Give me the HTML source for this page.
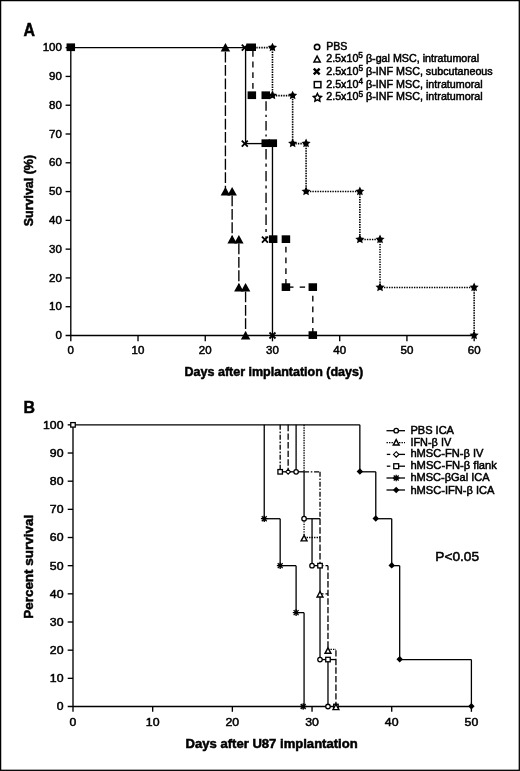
<!DOCTYPE html>
<html lang="en"><head><meta charset="utf-8"><title>Survival curves</title>
<style>html,body{margin:0;padding:0;background:#fff}svg{display:block}text{font-family:"Liberation Sans", sans-serif;fill:#000;stroke:#000;stroke-width:0.5px;paint-order:stroke}svg{will-change:transform;transform:translateZ(0)}</style>
</head><body>
<svg width="520" height="771" viewBox="0 0 520 771">
<rect x="0" y="0" width="520" height="771" fill="#fff"/>
<rect x="0.6" y="0.6" width="518.7" height="769.7" fill="none" stroke="#000" stroke-width="1.3"/>
<text x="23.40" y="36.00" font-size="17.6" text-anchor="start" font-weight="bold" textLength="11.5" lengthAdjust="spacingAndGlyphs" stroke-width="1.3">A</text>
<line x1="70.80" y1="47.05" x2="70.80" y2="341.30" stroke="#000" stroke-width="1.35" stroke-linecap="butt"/>
<line x1="65.60" y1="335.50" x2="474.15" y2="335.50" stroke="#000" stroke-width="1.35" stroke-linecap="butt"/>
<line x1="65.60" y1="306.71" x2="70.80" y2="306.71" stroke="#000" stroke-width="1.35" stroke-linecap="butt"/>
<line x1="65.60" y1="277.93" x2="70.80" y2="277.93" stroke="#000" stroke-width="1.35" stroke-linecap="butt"/>
<line x1="65.60" y1="249.14" x2="70.80" y2="249.14" stroke="#000" stroke-width="1.35" stroke-linecap="butt"/>
<line x1="65.60" y1="220.36" x2="70.80" y2="220.36" stroke="#000" stroke-width="1.35" stroke-linecap="butt"/>
<line x1="65.60" y1="191.57" x2="70.80" y2="191.57" stroke="#000" stroke-width="1.35" stroke-linecap="butt"/>
<line x1="65.60" y1="162.79" x2="70.80" y2="162.79" stroke="#000" stroke-width="1.35" stroke-linecap="butt"/>
<line x1="65.60" y1="134.00" x2="70.80" y2="134.00" stroke="#000" stroke-width="1.35" stroke-linecap="butt"/>
<line x1="65.60" y1="105.22" x2="70.80" y2="105.22" stroke="#000" stroke-width="1.35" stroke-linecap="butt"/>
<line x1="65.60" y1="76.43" x2="70.80" y2="76.43" stroke="#000" stroke-width="1.35" stroke-linecap="butt"/>
<line x1="65.60" y1="47.65" x2="70.80" y2="47.65" stroke="#000" stroke-width="1.35" stroke-linecap="butt"/>
<text x="61.90" y="339.10" font-size="11.5" text-anchor="end" font-weight="normal">0</text>
<text x="61.90" y="310.31" font-size="11.5" text-anchor="end" font-weight="normal">10</text>
<text x="61.90" y="281.53" font-size="11.5" text-anchor="end" font-weight="normal">20</text>
<text x="61.90" y="252.74" font-size="11.5" text-anchor="end" font-weight="normal">30</text>
<text x="61.90" y="223.96" font-size="11.5" text-anchor="end" font-weight="normal">40</text>
<text x="61.90" y="195.17" font-size="11.5" text-anchor="end" font-weight="normal">50</text>
<text x="61.90" y="166.39" font-size="11.5" text-anchor="end" font-weight="normal">60</text>
<text x="61.90" y="137.60" font-size="11.5" text-anchor="end" font-weight="normal">70</text>
<text x="61.90" y="108.82" font-size="11.5" text-anchor="end" font-weight="normal">80</text>
<text x="61.90" y="80.03" font-size="11.5" text-anchor="end" font-weight="normal">90</text>
<text x="61.90" y="51.25" font-size="11.5" text-anchor="end" font-weight="normal">100</text>
<line x1="138.02" y1="335.50" x2="138.02" y2="341.30" stroke="#000" stroke-width="1.35" stroke-linecap="butt"/>
<line x1="205.25" y1="335.50" x2="205.25" y2="341.30" stroke="#000" stroke-width="1.35" stroke-linecap="butt"/>
<line x1="272.47" y1="335.50" x2="272.47" y2="341.30" stroke="#000" stroke-width="1.35" stroke-linecap="butt"/>
<line x1="339.70" y1="335.50" x2="339.70" y2="341.30" stroke="#000" stroke-width="1.35" stroke-linecap="butt"/>
<line x1="406.93" y1="335.50" x2="406.93" y2="341.30" stroke="#000" stroke-width="1.35" stroke-linecap="butt"/>
<line x1="474.15" y1="335.50" x2="474.15" y2="341.30" stroke="#000" stroke-width="1.35" stroke-linecap="butt"/>
<text x="70.80" y="354.40" font-size="11.5" text-anchor="middle" font-weight="normal">0</text>
<text x="138.02" y="354.40" font-size="11.5" text-anchor="middle" font-weight="normal">10</text>
<text x="205.25" y="354.40" font-size="11.5" text-anchor="middle" font-weight="normal">20</text>
<text x="272.47" y="354.40" font-size="11.5" text-anchor="middle" font-weight="normal">30</text>
<text x="339.70" y="354.40" font-size="11.5" text-anchor="middle" font-weight="normal">40</text>
<text x="406.93" y="354.40" font-size="11.5" text-anchor="middle" font-weight="normal">50</text>
<text x="474.15" y="354.40" font-size="11.5" text-anchor="middle" font-weight="normal">60</text>
<text x="33.10" y="190.60" font-size="12.5" text-anchor="middle" font-weight="bold" textLength="71.4" lengthAdjust="spacingAndGlyphs" transform="rotate(-90 33.10 190.60)">Survival (%)</text>
<text x="184.60" y="375.90" font-size="12.5" text-anchor="start" font-weight="bold" textLength="178.5" lengthAdjust="spacingAndGlyphs">Days after implantation (days)</text>
<line x1="70.80" y1="47.65" x2="248.95" y2="47.65" stroke="#000" stroke-width="1.35" stroke-linecap="butt"/>
<line x1="225.42" y1="51.65" x2="225.42" y2="191.57" stroke="#000" stroke-width="1.35" stroke-dasharray="10.8 2.6" stroke-linecap="butt"/>
<line x1="232.14" y1="195.57" x2="232.14" y2="239.56" stroke="#000" stroke-width="1.35" stroke-dasharray="10.8 2.6" stroke-linecap="butt"/>
<line x1="238.86" y1="243.56" x2="238.86" y2="287.52" stroke="#000" stroke-width="1.35" stroke-dasharray="10.8 2.6" stroke-linecap="butt"/>
<line x1="245.58" y1="291.52" x2="245.58" y2="335.50" stroke="#000" stroke-width="1.35" stroke-dasharray="10.8 2.6" stroke-linecap="butt"/>
<line x1="245.58" y1="47.65" x2="245.58" y2="143.59" stroke="#000" stroke-width="1.35" stroke-linecap="butt"/>
<line x1="245.58" y1="143.59" x2="272.47" y2="143.59" stroke="#000" stroke-width="1.35" stroke-linecap="butt"/>
<line x1="272.47" y1="143.59" x2="272.47" y2="335.50" stroke="#000" stroke-width="1.35" stroke-linecap="butt"/>
<line x1="252.91" y1="50.90" x2="252.91" y2="95.63" stroke="#000" stroke-width="1.35" stroke-dasharray="5.8 4.9" stroke-linecap="butt"/>
<line x1="285.92" y1="246.80" x2="285.92" y2="287.52" stroke="#000" stroke-width="1.35" stroke-dasharray="5.8 4.9" stroke-linecap="butt"/>
<line x1="288.50" y1="287.12" x2="293.50" y2="287.12" stroke="#000" stroke-width="1.35" stroke-linecap="butt"/>
<line x1="299.70" y1="287.12" x2="305.10" y2="287.12" stroke="#000" stroke-width="1.35" stroke-linecap="butt"/>
<line x1="312.81" y1="295.80" x2="312.81" y2="335.50" stroke="#000" stroke-width="1.35" stroke-dasharray="5.8 4.9" stroke-linecap="butt"/>
<line x1="266.05" y1="101.30" x2="266.05" y2="143.59" stroke="#000" stroke-width="1.35" stroke-dasharray="9.4 4.1 2.1 4.1" stroke-linecap="butt"/>
<line x1="266.05" y1="149.10" x2="266.05" y2="239.56" stroke="#000" stroke-width="1.35" stroke-dasharray="10.4 4.1 3.1 4.2" stroke-linecap="butt"/>
<path d="M256.31 47.65 L272.47 47.65 L272.47 95.63 L292.64 95.63 L292.64 143.59 L306.09 143.59 L306.09 191.57 L359.87 191.57 L359.87 239.56 L380.03 239.56 L380.03 287.52 L474.15 287.52 L474.15 335.50" fill="none" stroke="#000" stroke-width="1.6" stroke-dasharray="1.4 1.1"/>
<polygon points="225.42,43.10 230.17,51.60 220.67,51.60" fill="#000"/>
<polygon points="225.42,187.02 230.17,195.52 220.67,195.52" fill="#000"/>
<polygon points="232.14,187.02 236.89,195.52 227.39,195.52" fill="#000"/>
<polygon points="232.14,235.01 236.89,243.51 227.39,243.51" fill="#000"/>
<polygon points="238.86,235.01 243.61,243.51 234.11,243.51" fill="#000"/>
<polygon points="238.86,282.97 243.61,291.47 234.11,291.47" fill="#000"/>
<polygon points="245.58,282.97 250.33,291.47 240.83,291.47" fill="#000"/>
<polygon points="245.58,330.95 250.33,339.45 240.83,339.45" fill="#000"/>
<path d="M241.78 44.65L247.78 50.65M241.78 50.65L247.78 44.65" stroke="#000" stroke-width="1.8" fill="none"/>
<path d="M241.78 140.59L247.78 146.59M241.78 146.59L247.78 140.59" stroke="#000" stroke-width="1.8" fill="none"/>
<path d="M261.95 236.56L267.95 242.56M261.95 242.56L267.95 236.56" stroke="#000" stroke-width="1.8" fill="none"/>
<path d="M269.47 332.50L275.47 338.50M269.47 338.50L275.47 332.50" stroke="#000" stroke-width="1.8" fill="none"/>
<rect x="246.30" y="43.50" width="9.7" height="7.5" fill="#000"/>
<rect x="66.55" y="43.40" width="8.5" height="7.7" fill="#000"/>
<rect x="247.59" y="91.38" width="8.5" height="7.7" fill="#000"/>
<rect x="261.50" y="91.38" width="8.5" height="7.7" fill="#000"/>
<rect x="261.50" y="139.34" width="8.5" height="7.7" fill="#000"/>
<rect x="268.56" y="139.34" width="8.5" height="7.7" fill="#000"/>
<rect x="268.90" y="235.31" width="8.5" height="7.7" fill="#000"/>
<rect x="281.67" y="235.31" width="8.5" height="7.7" fill="#000"/>
<rect x="281.67" y="283.27" width="8.5" height="7.7" fill="#000"/>
<rect x="308.56" y="283.27" width="8.5" height="7.7" fill="#000"/>
<rect x="308.56" y="331.25" width="8.5" height="7.7" fill="#000"/>
<polygon points="272.47,42.65 273.86,45.55 277.04,45.97 274.71,48.18 275.30,51.33 272.47,49.80 269.65,51.33 270.24,48.18 267.91,45.97 271.09,45.55" fill="#000"/>
<polygon points="272.47,90.63 273.86,93.53 277.04,93.95 274.71,96.16 275.30,99.32 272.47,97.78 269.65,99.32 270.24,96.16 267.91,93.95 271.09,93.53" fill="#000"/>
<polygon points="292.64,90.63 294.02,93.53 297.21,93.95 294.88,96.16 295.46,99.32 292.64,97.78 289.82,99.32 290.41,96.16 288.08,93.95 291.26,93.53" fill="#000"/>
<polygon points="292.64,138.59 294.02,141.49 297.21,141.91 294.88,144.12 295.46,147.27 292.64,145.74 289.82,147.27 290.41,144.12 288.08,141.91 291.26,141.49" fill="#000"/>
<polygon points="306.09,138.59 307.47,141.49 310.65,141.91 308.32,144.12 308.91,147.27 306.09,145.74 303.27,147.27 303.85,144.12 301.52,141.91 304.71,141.49" fill="#000"/>
<polygon points="306.09,186.57 307.47,189.47 310.65,189.89 308.32,192.10 308.91,195.26 306.09,193.72 303.27,195.26 303.85,192.10 301.52,189.89 304.71,189.47" fill="#000"/>
<polygon points="359.87,186.57 361.25,189.47 364.43,189.89 362.10,192.10 362.69,195.26 359.87,193.72 357.05,195.26 357.63,192.10 355.30,189.89 358.49,189.47" fill="#000"/>
<polygon points="359.87,234.56 361.25,237.46 364.43,237.88 362.10,240.09 362.69,243.24 359.87,241.71 357.05,243.24 357.63,240.09 355.30,237.88 358.49,237.46" fill="#000"/>
<polygon points="380.03,234.56 381.42,237.46 384.60,237.88 382.27,240.09 382.86,243.24 380.03,241.71 377.21,243.24 377.80,240.09 375.47,237.88 378.65,237.46" fill="#000"/>
<polygon points="380.03,282.52 381.42,285.41 384.60,285.83 382.27,288.04 382.86,291.20 380.03,289.67 377.21,291.20 377.80,288.04 375.47,285.83 378.65,285.41" fill="#000"/>
<polygon points="474.15,282.52 475.53,285.41 478.72,285.83 476.38,288.04 476.97,291.20 474.15,289.67 471.33,291.20 471.92,288.04 469.58,285.83 472.77,285.41" fill="#000"/>
<polygon points="474.15,330.50 475.53,333.40 478.72,333.82 476.38,336.03 476.97,339.18 474.15,337.65 471.33,339.18 471.92,336.03 469.58,333.82 472.77,333.40" fill="#000"/>
<circle cx="317.1" cy="47.1" r="2.7" fill="none" stroke="#000" stroke-width="1.6"/>
<polygon points="317.1,56.1 320.20000000000005,61.9 314.0,61.9" fill="none" stroke="#000" stroke-width="1.5"/>
<path d="M313.75 68.55L319.65 74.45M313.75 74.45L319.65 68.55" stroke="#000" stroke-width="2.4" fill="none"/>
<rect x="314.3" y="81.6" width="6.6" height="6.1" fill="none" stroke="#000" stroke-width="1.5"/>
<polygon points="317.40,93.50 318.63,96.00 321.39,96.40 319.40,98.35 319.87,101.10 317.40,99.80 314.93,101.10 315.40,98.35 313.41,96.40 316.17,96.00" fill="none" stroke="#000" stroke-width="1.5"/>
<text x="326.20" y="50.00" font-size="10.6" text-anchor="start" font-weight="normal">PBS</text>
<text x="326.20" y="61.90" font-size="10.6" text-anchor="start" font-weight="normal" textLength="153.0" lengthAdjust="spacingAndGlyphs">2.5x10<tspan dy="-3.6" font-size="8.2">5</tspan><tspan dy="3.6"> </tspan>β-gal MSC, intratumoral</text>
<text x="326.20" y="74.70" font-size="10.6" text-anchor="start" font-weight="normal" textLength="166.5" lengthAdjust="spacingAndGlyphs">2.5x10<tspan dy="-3.6" font-size="8.2">5</tspan><tspan dy="3.6"> </tspan>β-INF MSC, subcutaneous</text>
<text x="326.20" y="87.50" font-size="10.6" text-anchor="start" font-weight="normal" textLength="156.5" lengthAdjust="spacingAndGlyphs">2.5x10<tspan dy="-3.6" font-size="8.2">4</tspan><tspan dy="3.6"> </tspan>β-INF MSC, intratumoral</text>
<text x="326.20" y="100.40" font-size="10.6" text-anchor="start" font-weight="normal" textLength="156.5" lengthAdjust="spacingAndGlyphs">2.5x10<tspan dy="-3.6" font-size="8.2">5</tspan><tspan dy="3.6"> </tspan>β-INF MSC, intratumoral</text>
<text x="23.60" y="413.30" font-size="17.2" text-anchor="start" font-weight="bold" textLength="11.5" lengthAdjust="spacingAndGlyphs" stroke-width="1.3">B</text>
<line x1="73.00" y1="424.25" x2="73.00" y2="711.80" stroke="#000" stroke-width="1.35" stroke-linecap="butt"/>
<line x1="67.70" y1="706.50" x2="471.40" y2="706.50" stroke="#000" stroke-width="1.35" stroke-linecap="butt"/>
<line x1="67.70" y1="678.34" x2="73.00" y2="678.34" stroke="#000" stroke-width="1.35" stroke-linecap="butt"/>
<line x1="67.70" y1="650.17" x2="73.00" y2="650.17" stroke="#000" stroke-width="1.35" stroke-linecap="butt"/>
<line x1="67.70" y1="622.00" x2="73.00" y2="622.00" stroke="#000" stroke-width="1.35" stroke-linecap="butt"/>
<line x1="67.70" y1="593.84" x2="73.00" y2="593.84" stroke="#000" stroke-width="1.35" stroke-linecap="butt"/>
<line x1="67.70" y1="565.67" x2="73.00" y2="565.67" stroke="#000" stroke-width="1.35" stroke-linecap="butt"/>
<line x1="67.70" y1="537.51" x2="73.00" y2="537.51" stroke="#000" stroke-width="1.35" stroke-linecap="butt"/>
<line x1="67.70" y1="509.35" x2="73.00" y2="509.35" stroke="#000" stroke-width="1.35" stroke-linecap="butt"/>
<line x1="67.70" y1="481.18" x2="73.00" y2="481.18" stroke="#000" stroke-width="1.35" stroke-linecap="butt"/>
<line x1="67.70" y1="453.02" x2="73.00" y2="453.02" stroke="#000" stroke-width="1.35" stroke-linecap="butt"/>
<line x1="67.70" y1="424.85" x2="73.00" y2="424.85" stroke="#000" stroke-width="1.35" stroke-linecap="butt"/>
<text x="63.50" y="710.40" font-size="11.5" text-anchor="end" font-weight="normal" textLength="6.8" lengthAdjust="spacingAndGlyphs">0</text>
<text x="63.50" y="682.24" font-size="11.5" text-anchor="end" font-weight="normal" textLength="13.7" lengthAdjust="spacingAndGlyphs">10</text>
<text x="63.50" y="654.07" font-size="11.5" text-anchor="end" font-weight="normal" textLength="13.7" lengthAdjust="spacingAndGlyphs">20</text>
<text x="63.50" y="625.90" font-size="11.5" text-anchor="end" font-weight="normal" textLength="13.7" lengthAdjust="spacingAndGlyphs">30</text>
<text x="63.50" y="597.74" font-size="11.5" text-anchor="end" font-weight="normal" textLength="13.7" lengthAdjust="spacingAndGlyphs">40</text>
<text x="63.50" y="569.57" font-size="11.5" text-anchor="end" font-weight="normal" textLength="13.7" lengthAdjust="spacingAndGlyphs">50</text>
<text x="63.50" y="541.41" font-size="11.5" text-anchor="end" font-weight="normal" textLength="13.7" lengthAdjust="spacingAndGlyphs">60</text>
<text x="63.50" y="513.25" font-size="11.5" text-anchor="end" font-weight="normal" textLength="13.7" lengthAdjust="spacingAndGlyphs">70</text>
<text x="63.50" y="485.08" font-size="11.5" text-anchor="end" font-weight="normal" textLength="13.7" lengthAdjust="spacingAndGlyphs">80</text>
<text x="63.50" y="456.92" font-size="11.5" text-anchor="end" font-weight="normal" textLength="13.7" lengthAdjust="spacingAndGlyphs">90</text>
<text x="63.50" y="428.75" font-size="11.5" text-anchor="end" font-weight="normal" textLength="20.5" lengthAdjust="spacingAndGlyphs">100</text>
<line x1="152.68" y1="706.50" x2="152.68" y2="711.80" stroke="#000" stroke-width="1.35" stroke-linecap="butt"/>
<line x1="232.36" y1="706.50" x2="232.36" y2="711.80" stroke="#000" stroke-width="1.35" stroke-linecap="butt"/>
<line x1="312.04" y1="706.50" x2="312.04" y2="711.80" stroke="#000" stroke-width="1.35" stroke-linecap="butt"/>
<line x1="391.72" y1="706.50" x2="391.72" y2="711.80" stroke="#000" stroke-width="1.35" stroke-linecap="butt"/>
<line x1="471.40" y1="706.50" x2="471.40" y2="711.80" stroke="#000" stroke-width="1.35" stroke-linecap="butt"/>
<text x="73.00" y="726.40" font-size="11.5" text-anchor="middle" font-weight="normal" textLength="6.8" lengthAdjust="spacingAndGlyphs">0</text>
<text x="152.68" y="726.40" font-size="11.5" text-anchor="middle" font-weight="normal" textLength="13.7" lengthAdjust="spacingAndGlyphs">10</text>
<text x="232.36" y="726.40" font-size="11.5" text-anchor="middle" font-weight="normal" textLength="13.7" lengthAdjust="spacingAndGlyphs">20</text>
<text x="312.04" y="726.40" font-size="11.5" text-anchor="middle" font-weight="normal" textLength="13.7" lengthAdjust="spacingAndGlyphs">30</text>
<text x="391.72" y="726.40" font-size="11.5" text-anchor="middle" font-weight="normal" textLength="13.7" lengthAdjust="spacingAndGlyphs">40</text>
<text x="471.40" y="726.40" font-size="11.5" text-anchor="middle" font-weight="normal" textLength="13.7" lengthAdjust="spacingAndGlyphs">50</text>
<text x="32.70" y="566.80" font-size="12.5" text-anchor="middle" font-weight="bold" textLength="104.0" lengthAdjust="spacingAndGlyphs" transform="rotate(-90 32.70 566.80)">Percent survival</text>
<text x="185.60" y="748.30" font-size="12.5" text-anchor="start" font-weight="bold" textLength="172.1" lengthAdjust="spacingAndGlyphs">Days after U87 implantation</text>
<text x="435.30" y="560.80" font-size="13.2" text-anchor="start" font-weight="normal" textLength="43.8" lengthAdjust="spacingAndGlyphs" stroke-width="0.6">P&lt;0.05</text>
<line x1="73.00" y1="424.85" x2="359.85" y2="424.85" stroke="#000" stroke-width="1.3" stroke-linecap="butt"/>
<line x1="264.23" y1="424.85" x2="264.23" y2="518.72" stroke="#000" stroke-width="1.3" stroke-linecap="butt"/>
<line x1="264.23" y1="518.72" x2="280.17" y2="518.72" stroke="#000" stroke-width="1.3" stroke-linecap="butt"/>
<line x1="280.17" y1="518.72" x2="280.17" y2="565.67" stroke="#000" stroke-width="1.3" stroke-linecap="butt"/>
<line x1="280.17" y1="565.67" x2="296.10" y2="565.67" stroke="#000" stroke-width="1.3" stroke-linecap="butt"/>
<line x1="296.10" y1="565.67" x2="296.10" y2="612.63" stroke="#000" stroke-width="1.3" stroke-linecap="butt"/>
<line x1="296.10" y1="612.63" x2="304.07" y2="612.63" stroke="#000" stroke-width="1.3" stroke-linecap="butt"/>
<line x1="304.07" y1="612.63" x2="304.07" y2="706.50" stroke="#000" stroke-width="1.3" stroke-linecap="butt"/>
<line x1="296.10" y1="424.85" x2="296.10" y2="471.80" stroke="#000" stroke-width="1.3" stroke-linecap="butt"/>
<line x1="280.17" y1="471.80" x2="304.07" y2="471.80" stroke="#000" stroke-width="1.3" stroke-linecap="butt"/>
<line x1="304.07" y1="471.80" x2="304.07" y2="518.72" stroke="#000" stroke-width="1.3" stroke-linecap="butt"/>
<line x1="304.07" y1="518.72" x2="320.01" y2="518.72" stroke="#000" stroke-width="1.3" stroke-linecap="butt"/>
<line x1="312.04" y1="518.72" x2="312.04" y2="565.67" stroke="#000" stroke-width="1.3" stroke-linecap="butt"/>
<line x1="312.04" y1="565.67" x2="320.01" y2="565.67" stroke="#000" stroke-width="1.3" stroke-linecap="butt"/>
<line x1="320.01" y1="565.67" x2="320.01" y2="659.55" stroke="#000" stroke-width="1.3" stroke-linecap="butt"/>
<line x1="320.01" y1="659.55" x2="327.98" y2="659.55" stroke="#000" stroke-width="1.3" stroke-linecap="butt"/>
<line x1="327.98" y1="659.55" x2="327.98" y2="706.50" stroke="#000" stroke-width="1.3" stroke-linecap="butt"/>
<line x1="327.98" y1="659.55" x2="335.94" y2="659.55" stroke="#000" stroke-width="1.3" stroke-linecap="butt"/>
<line x1="359.85" y1="424.85" x2="359.85" y2="471.80" stroke="#000" stroke-width="1.3" stroke-linecap="butt"/>
<line x1="359.85" y1="471.80" x2="375.78" y2="471.80" stroke="#000" stroke-width="1.3" stroke-linecap="butt"/>
<line x1="375.78" y1="471.80" x2="375.78" y2="518.72" stroke="#000" stroke-width="1.3" stroke-linecap="butt"/>
<line x1="375.78" y1="518.72" x2="391.72" y2="518.72" stroke="#000" stroke-width="1.3" stroke-linecap="butt"/>
<line x1="391.72" y1="518.72" x2="391.72" y2="565.67" stroke="#000" stroke-width="1.3" stroke-linecap="butt"/>
<line x1="391.72" y1="565.67" x2="399.69" y2="565.67" stroke="#000" stroke-width="1.3" stroke-linecap="butt"/>
<line x1="399.69" y1="565.67" x2="399.69" y2="659.55" stroke="#000" stroke-width="1.3" stroke-linecap="butt"/>
<line x1="399.69" y1="659.55" x2="471.40" y2="659.55" stroke="#000" stroke-width="1.3" stroke-linecap="butt"/>
<line x1="471.40" y1="659.55" x2="471.40" y2="706.50" stroke="#000" stroke-width="1.3" stroke-linecap="butt"/>
<line x1="280.17" y1="424.85" x2="280.17" y2="471.80" stroke="#000" stroke-width="1.3" stroke-dasharray="5 1.7 1.6 1.7" stroke-linecap="butt"/>
<line x1="304.07" y1="471.80" x2="320.01" y2="471.80" stroke="#000" stroke-width="1.3" stroke-dasharray="5 1.7 1.6 1.7" stroke-linecap="butt"/>
<line x1="320.01" y1="471.80" x2="320.01" y2="518.72" stroke="#000" stroke-width="1.3" stroke-dasharray="5 1.7 1.6 1.7" stroke-linecap="butt"/>
<line x1="320.01" y1="518.72" x2="320.01" y2="565.67" stroke="#000" stroke-width="1.3" stroke-dasharray="6.4 2.2" stroke-linecap="butt"/>
<line x1="288.14" y1="424.85" x2="288.14" y2="471.80" stroke="#000" stroke-width="1.3" stroke-dasharray="6.4 2.2" stroke-linecap="butt"/>
<line x1="304.07" y1="424.85" x2="304.07" y2="471.80" stroke="#000" stroke-width="1.3" stroke-dasharray="1.4 1.1" stroke-linecap="butt"/>
<line x1="304.07" y1="518.72" x2="304.07" y2="537.51" stroke="#000" stroke-width="1.3" stroke-dasharray="1.4 1.1" stroke-linecap="butt"/>
<line x1="304.07" y1="537.51" x2="320.01" y2="537.51" stroke="#000" stroke-width="1.3" stroke-dasharray="1.4 1.1" stroke-linecap="butt"/>
<line x1="320.01" y1="565.67" x2="327.98" y2="565.67" stroke="#000" stroke-width="1.3" stroke-dasharray="3.5 2" stroke-linecap="butt"/>
<line x1="327.98" y1="565.67" x2="327.98" y2="650.17" stroke="#000" stroke-width="1.3" stroke-dasharray="6.4 2.2" stroke-dashoffset="1.75" stroke-linecap="butt"/>
<line x1="320.01" y1="593.84" x2="327.98" y2="593.84" stroke="#000" stroke-width="1.3" stroke-dasharray="3.5 2" stroke-linecap="butt"/>
<line x1="327.98" y1="649.33" x2="335.94" y2="649.33" stroke="#000" stroke-width="1.3" stroke-dasharray="1.4 1.1" stroke-linecap="butt"/>
<line x1="335.94" y1="650.17" x2="335.94" y2="706.50" stroke="#000" stroke-width="1.3" stroke-dasharray="6.4 2.2" stroke-linecap="butt"/>
<rect x="70.75" y="422.60" width="4.5" height="4.5" fill="#fff" stroke="#000" stroke-width="1.3"/>
<rect x="277.92" y="469.55" width="4.5" height="4.5" fill="#fff" stroke="#000" stroke-width="1.3"/>
<rect x="317.76" y="563.42" width="4.5" height="4.5" fill="#fff" stroke="#000" stroke-width="1.3"/>
<rect x="325.73" y="657.30" width="4.5" height="4.5" fill="#fff" stroke="#000" stroke-width="1.3"/>
<rect x="333.69" y="704.25" width="4.5" height="4.5" fill="#fff" stroke="#000" stroke-width="1.3"/>
<polygon points="288.14,469.40 290.54,471.80 288.14,474.20 285.74,471.80" fill="#fff" stroke="#000" stroke-width="1.1"/>
<circle cx="296.10" cy="471.80" r="2.25" fill="#fff" stroke="#000" stroke-width="1.3"/>
<circle cx="304.07" cy="518.72" r="2.25" fill="#fff" stroke="#000" stroke-width="1.3"/>
<circle cx="312.04" cy="565.67" r="2.25" fill="#fff" stroke="#000" stroke-width="1.3"/>
<circle cx="320.01" cy="659.55" r="2.25" fill="#fff" stroke="#000" stroke-width="1.3"/>
<circle cx="327.98" cy="706.50" r="2.25" fill="#fff" stroke="#000" stroke-width="1.3"/>
<polygon points="304.07,535.36 307.02,540.86 301.12,540.86" fill="#fff" stroke="#000" stroke-width="1.4"/>
<polygon points="320.01,591.49 322.96,596.99 317.06,596.99" fill="#fff" stroke="#000" stroke-width="1.4"/>
<polygon points="327.98,647.82 330.93,653.32 325.03,653.32" fill="#fff" stroke="#000" stroke-width="1.4"/>
<polygon points="335.94,704.15 338.89,709.65 332.99,709.65" fill="#fff" stroke="#000" stroke-width="1.4"/>
<path d="M264.23 515.42V522.02M260.93 518.72H267.53M261.76 516.25L266.71 521.20M261.76 521.20L266.71 516.25" stroke="#000" stroke-width="1.3" fill="none"/>
<path d="M280.17 562.38V568.97M276.87 565.67H283.47M277.69 563.20L282.64 568.15M277.69 568.15L282.64 563.20" stroke="#000" stroke-width="1.3" fill="none"/>
<path d="M296.10 609.33V615.93M292.80 612.63H299.40M293.63 610.15L298.58 615.10M293.63 615.10L298.58 610.15" stroke="#000" stroke-width="1.3" fill="none"/>
<path d="M303.17 703.20V709.80M299.87 706.50H306.47M300.70 704.02L305.65 708.98M300.70 708.98L305.65 704.02" stroke="#000" stroke-width="1.3" fill="none"/>
<polygon points="359.85,468.25 363.10,471.50 359.85,474.75 356.60,471.50" fill="#000"/>
<polygon points="375.78,515.17 379.03,518.42 375.78,521.67 372.53,518.42" fill="#000"/>
<polygon points="391.72,562.12 394.97,565.38 391.72,568.62 388.47,565.38" fill="#000"/>
<polygon points="399.69,656.00 402.94,659.25 399.69,662.50 396.44,659.25" fill="#000"/>
<polygon points="471.40,702.95 474.65,706.20 471.40,709.45 468.15,706.20" fill="#000"/>
<line x1="386.50" y1="430.70" x2="405.00" y2="430.70" stroke="#000" stroke-width="1.3" stroke-linecap="butt"/>
<circle cx="396.20" cy="430.70" r="2.25" fill="#fff" stroke="#000" stroke-width="1.3"/>
<line x1="386.50" y1="442.60" x2="405.00" y2="442.60" stroke="#000" stroke-width="1.3" stroke-dasharray="1.4 1.1" stroke-linecap="butt"/>
<polygon points="396.20,439.55 399.15,445.05 393.25,445.05" fill="#fff" stroke="#000" stroke-width="1.4"/>
<line x1="386.80" y1="454.40" x2="390.30" y2="454.40" stroke="#000" stroke-width="1.3" stroke-linecap="butt"/>
<line x1="396.20" y1="454.40" x2="405.00" y2="454.40" stroke="#000" stroke-width="1.3" stroke-linecap="butt"/>
<polygon points="396.20,451.70 398.90,454.40 396.20,457.10 393.50,454.40" fill="#fff" stroke="#000" stroke-width="1.1"/>
<line x1="386.80" y1="466.20" x2="390.30" y2="466.20" stroke="#000" stroke-width="1.3" stroke-linecap="butt"/>
<line x1="396.20" y1="466.20" x2="405.00" y2="466.20" stroke="#000" stroke-width="1.3" stroke-linecap="butt"/>
<rect x="393.75" y="463.75" width="4.9" height="4.9" fill="#fff" stroke="#000" stroke-width="1.3"/>
<line x1="386.50" y1="478.00" x2="405.00" y2="478.00" stroke="#000" stroke-width="1.3" stroke-linecap="butt"/>
<path d="M396.20 474.70V481.30M392.90 478.00H399.50M393.72 475.52L398.68 480.48M393.72 480.48L398.68 475.52" stroke="#000" stroke-width="1.3" fill="none"/>
<line x1="386.50" y1="490.00" x2="405.00" y2="490.00" stroke="#000" stroke-width="1.3" stroke-linecap="butt"/>
<polygon points="396.20,486.75 399.45,490.00 396.20,493.25 392.95,490.00" fill="#000"/>
<text x="410.40" y="433.80" font-size="10.9" text-anchor="start" font-weight="normal" textLength="43.6" lengthAdjust="spacingAndGlyphs" stroke-width="0.55">PBS ICA</text>
<text x="410.40" y="445.60" font-size="10.9" text-anchor="start" font-weight="normal" textLength="40.8" lengthAdjust="spacingAndGlyphs" stroke-width="0.55">IFN-β IV</text>
<text x="410.40" y="457.10" font-size="10.9" text-anchor="start" font-weight="normal" textLength="73.1" lengthAdjust="spacingAndGlyphs" stroke-width="0.55">hMSC-FN-β IV</text>
<text x="410.40" y="469.00" font-size="10.9" text-anchor="start" font-weight="normal" textLength="86.5" lengthAdjust="spacingAndGlyphs" stroke-width="0.55">hMSC-FN-β flank</text>
<text x="410.40" y="481.20" font-size="10.9" text-anchor="start" font-weight="normal" textLength="79.2" lengthAdjust="spacingAndGlyphs" stroke-width="0.55">hMSC-βGal ICA</text>
<text x="410.40" y="494.00" font-size="10.9" text-anchor="start" font-weight="normal" textLength="84.0" lengthAdjust="spacingAndGlyphs" stroke-width="0.55">hMSC-IFN-β ICA</text>
</svg></body></html>
